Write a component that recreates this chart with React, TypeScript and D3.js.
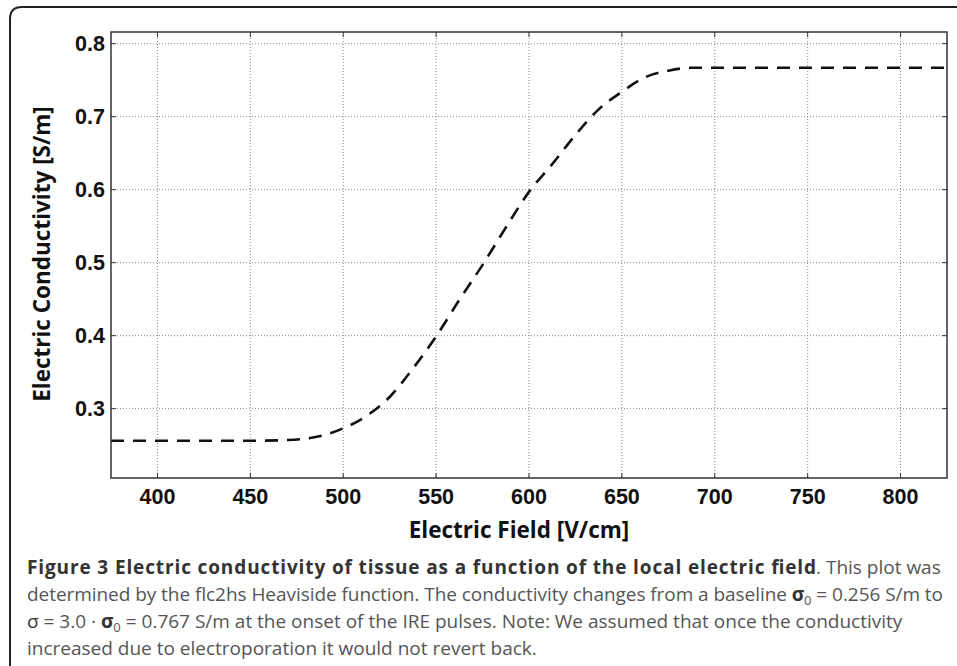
import React from "react";
import * as d3 from "d3";

// electric field [V/cm] and conductivity [S/m]
const fieldValues = [375, 400, 425, 450, 470, 480, 490, 500, 512.5, 525, 537.5, 550, 562.5, 575, 587.5, 600, 612.5, 625, 637.5, 650, 662.5, 675, 687.5, 700, 750, 800, 825];
const sigmaValues = [0.256, 0.256, 0.256, 0.256, 0.257, 0.259, 0.264, 0.273, 0.29, 0.316, 0.355, 0.399, 0.449, 0.497, 0.548, 0.597, 0.635, 0.675, 0.71, 0.734, 0.754, 0.763, 0.767, 0.767, 0.767, 0.767, 0.767];

const xTicks = [400, 450, 500, 550, 600, 650, 700, 750, 800];
const yTicks = [0.3, 0.4, 0.5, 0.6, 0.7, 0.8];

const W = 957;
const H = 666;
const plot = { left: 111, right: 947, top: 32, bottom: 478 };

const tickFont = "'Liberation Sans', Arial, sans-serif";
const labelFont = "'Open Sans', 'Noto Sans', sans-serif";

const App = () => {
  const x = d3.scaleLinear().domain([375, 825]).range([plot.left, plot.right]);
  const y = d3.scaleLinear().domain([0.205, 0.816]).range([plot.bottom, plot.top]);

  const pts = fieldValues.map((f, i) => [f, sigmaValues[i]] as [number, number]);
  const line = d3
    .line<[number, number]>()
    .x((d) => x(d[0]))
    .y((d) => y(d[1]))
    .curve(d3.curveMonotoneX);

  const capY = 574;
  const lh = 27;

  return (
    <svg width={W} height={H} style={{ position: "absolute", left: 0, top: 0, background: "#fff" }}>
      {/* outer frame, clipped on the right and bottom */}
      <path
        d={`M10,${H + 5} L10,19 Q10,7 22,7 L${W + 5},7`}
        fill="none"
        stroke="#222"
        strokeWidth={2}
      />

      {/* grid */}
      <g stroke="#888" strokeWidth={1} strokeDasharray="1,2">
        {xTicks.map((t) => (
          <line key={"gx" + t} x1={x(t)} x2={x(t)} y1={plot.top} y2={plot.bottom} />
        ))}
        {yTicks.map((t) => (
          <line key={"gy" + t} x1={plot.left} x2={plot.right} y1={y(t)} y2={y(t)} />
        ))}
      </g>

      {/* inner ticks */}
      <g stroke="#333" strokeWidth={1}>
        {xTicks.map((t) => (
          <g key={"tx" + t}>
            <line x1={x(t)} x2={x(t)} y1={plot.bottom} y2={plot.bottom - 5} />
            <line x1={x(t)} x2={x(t)} y1={plot.top} y2={plot.top + 5} />
          </g>
        ))}
        {yTicks.map((t) => (
          <g key={"ty" + t}>
            <line x1={plot.left} x2={plot.left + 5} y1={y(t)} y2={y(t)} />
            <line x1={plot.right} x2={plot.right - 5} y1={y(t)} y2={y(t)} />
          </g>
        ))}
      </g>

      {/* curve */}
      <path
        d={line(pts) ?? ""}
        fill="none"
        stroke="#111"
        strokeWidth={2.6}
        strokeDasharray="13,9"
      />

      {/* plot box */}
      <rect
        x={plot.left}
        y={plot.top}
        width={plot.right - plot.left}
        height={plot.bottom - plot.top}
        fill="none"
        stroke="#333"
        strokeWidth={1.5}
      />

      {/* tick labels */}
      <g fontFamily={tickFont} fontWeight="bold" fontSize={21.5} fill="#111">
        {xTicks.map((t) => (
          <text key={"lx" + t} x={x(t)} y={504} textAnchor="middle">
            {t}
          </text>
        ))}
        {yTicks.map((t) => (
          <text key={"ly" + t} x={105} y={y(t)} dy="0.36em" textAnchor="end">
            {d3.format(".1f")(t)}
          </text>
        ))}
      </g>

      {/* axis labels */}
      <text
        x={519}
        y={538}
        textAnchor="middle"
        fontFamily={labelFont}
        fontWeight="bold"
        fontSize={22.5}
        fill="#111"
      >
        Electric Field [V/cm]
      </text>
      <text
        transform={`translate(50,254) rotate(-90)`}
        textAnchor="middle"
        fontFamily={labelFont}
        fontWeight="bold"
        fontSize={22.5}
        fill="#111"
      >
        Electric Conductivity [S/m]
      </text>

      {/* caption */}
      <g fontFamily={labelFont} fontSize={19}>
        <text x={27} y={capY} fontWeight="bold" fill="#333" textLength={789} lengthAdjust="spacing">
          Figure 3 Electric conductivity of tissue as a function of the local electric field
        </text>
        <text x={816} y={capY} fill="#555">
          . This plot was
        </text>
        <text x={27} y={capY + lh} fill="#555" textLength={916} lengthAdjust="spacing">
          determined by the flc2hs Heaviside function. The conductivity changes from a baseline{" "}
          <tspan fill="#333" fontWeight="bold">σ</tspan>
          <tspan fontSize={13} dy={4}>0</tspan>
          <tspan dy={-4}> = 0.256 S/m to</tspan>
        </text>
        <text x={27} y={capY + 2 * lh} fill="#555">
          <tspan fill="#333">σ</tspan> = 3.0 · <tspan fill="#333" fontWeight="bold">σ</tspan>
          <tspan fontSize={13} dy={4}>0</tspan>
          <tspan dy={-4}> = 0.767 S/m at the onset of the IRE pulses. Note: We assumed that once the conductivity</tspan>
        </text>
        <text x={27} y={capY + 3 * lh} fill="#555">
          increased due to electroporation it would not revert back.
        </text>
      </g>
    </svg>
  );
};

export default App;
